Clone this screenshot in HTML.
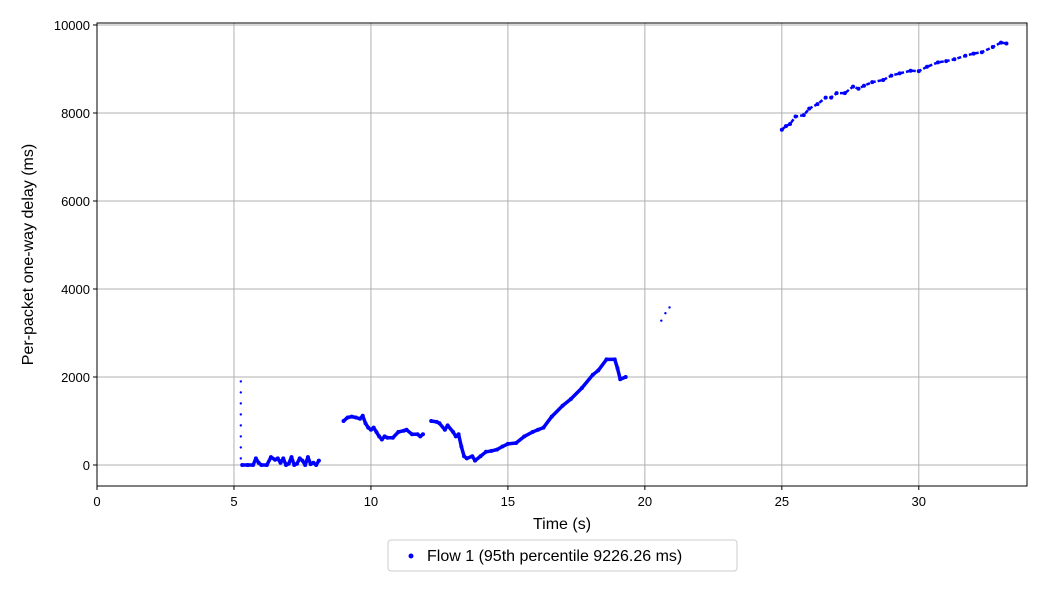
<!DOCTYPE html>
<html><head><meta charset="utf-8"><style>
body{margin:0;background:#fff;font-family:"Liberation Sans","DejaVu Sans",sans-serif}
</style></head><body>
<svg id="c" width="1050" height="591" xmlns="http://www.w3.org/2000/svg"></svg>
<script>
const xTicks=[0,5,10,15,20,25,30];
const yTicks=[0,2000,4000,6000,8000,10000];
const vertT=[5.25,5.25,5.25,5.25,5.25,5.25,5.25,5.25];
const vertD=[1900,1650,1400,1150,900,650,400,150];
const segT=[
 [5.3,5.5,5.7,5.8,5.9,6.0,6.2,6.35,6.5,6.6,6.7,6.8,6.9,7.0,7.1,7.2,7.3,7.4,7.5,7.6,7.7,7.8,7.9,8.0,8.1],
 [9.0,9.15,9.3,9.45,9.6,9.7,9.8,9.9,10.0,10.1,10.2,10.3,10.4,10.5,10.6,10.8,11.0,11.2,11.3,11.5,11.7,11.8,11.9],
 [12.2,12.4,12.5,12.7,12.8,13.0,13.1,13.2,13.3,13.4,13.5,13.7,13.8,14.0,14.2,14.4,14.6,14.8,15.0,15.3,15.6,15.9,16.1,16.3,16.6,17.0,17.3,17.7,18.1,18.3,18.6,18.9,19.0,19.1,19.3],
 [20.6,20.75,20.9],
 [25.0,25.15,25.3,25.5,25.8,26.0,26.3,26.6,26.8,27.0,27.3,27.6,27.8,28.0,28.3,28.7,29.0,29.3,29.7,30.0,30.3,30.7,31.0,31.3,31.7,32.0,32.3,32.7,33.0,33.2]
];
const segD=[
 [0,0,0,150,50,0,0,180,120,150,50,150,0,30,180,0,30,150,100,0,180,20,50,0,100],
 [1000,1080,1100,1080,1050,1120,950,850,800,850,750,650,580,650,620,620,750,780,800,700,700,650,700],
 [1000,980,950,800,900,750,650,700,420,200,150,200,100,200,300,320,350,420,480,500,650,750,800,850,1100,1350,1500,1750,2050,2150,2400,2400,2200,1950,2000],
 [3280,3450,3580],
 [7620,7700,7750,7920,7950,8100,8200,8350,8350,8450,8450,8600,8550,8620,8700,8750,8850,8900,8960,8950,9050,9150,9180,9220,9300,9350,9380,9500,9600,9580]
];
const NS="http://www.w3.org/2000/svg";
const svg=document.getElementById('c');
const L=97,R=1027,T=23,B=486,XMAX=33.95,YMIN=-477,YMAX=10045;
const sx=v=>L+(v/XMAX)*(R-L);
const sy=v=>B-(v-YMIN)/(YMAX-YMIN)*(B-T);
function mk(tag,attrs,parent){const e=document.createElementNS(NS,tag);for(const k in attrs)e.setAttribute(k,attrs[k]);(parent||svg).appendChild(e);return e;}
const grid=mk('g',{});


xTicks.forEach(t=>{
 const l=mk('line',{x1:sx(t),x2:sx(t),y1:T,y2:B,stroke:'#b0b0b0','stroke-width':1},grid);
 
 
 mk('line',{x1:sx(t),x2:sx(t),y1:B,y2:B+4,stroke:'#000'});
 const tx=mk('text',{x:sx(t),y:B+20,'text-anchor':'middle','font-size':13});
 tx.textContent=t;
 
 
});
yTicks.forEach(t=>{
 const l=mk('line',{x1:L,x2:R,y1:sy(t),y2:sy(t),stroke:'#b0b0b0','stroke-width':1},grid);
 
 
 mk('line',{x1:L-4,x2:L,y1:sy(t),y2:sy(t),stroke:'#000'});
 const tx=mk('text',{x:L-7,y:sy(t)+5,'text-anchor':'end','font-size':13});
 tx.textContent=t;
 
 
});
const frame=mk('rect',{x:L,y:T,width:R-L,height:B-T,fill:'none',stroke:'#000','stroke-width':1});


const series=mk('g',{fill:'#0000ff'});


vertT.forEach((t,i)=>{
 const c=mk('circle',{cx:sx(t),cy:sy(vertD[i]),r:1.2},series);
 
 
});
segT.forEach((ts,s)=>{
 const pts=ts.map((t,i)=>sx(t)+','+sy(segD[s][i])).join(' ');
 if(ts.length>3){
  const p=mk('polyline',{points:pts,fill:'none',stroke:'#0000ff','stroke-width':s===4?2.5:3.5,'stroke-dasharray':s===4?'4 2':'none','stroke-linejoin':'round'},series);
  
  
 }
 ts.forEach((t,i)=>{
  const c=mk('circle',{cx:sx(t),cy:sy(segD[s][i]),r:ts.length>3?2:1.2},series);
  
  
 });
});
const xt=mk('text',{x:(L+R)/2,y:529,'text-anchor':'middle','font-size':16});
xt.textContent='Time (s)';


const yt=mk('text',{x:0,y:0,'text-anchor':'middle','font-size':16,transform:'translate(33,'+((T+B)/2)+') rotate(-90)'});
yt.textContent='Per-packet one-way delay (ms)';


const lg=mk('g',{});


mk('rect',{x:388,y:540,width:349,height:31,rx:3,fill:'#fff',stroke:'#ccc'},lg);
mk('circle',{cx:411,cy:556,r:2.5,fill:'#0000ff'},lg);
const lt=mk('text',{x:427,y:561,'font-size':16},lg);
lt.textContent='Flow 1 (95th percentile 9226.26 ms)';


</script>
</body></html>
